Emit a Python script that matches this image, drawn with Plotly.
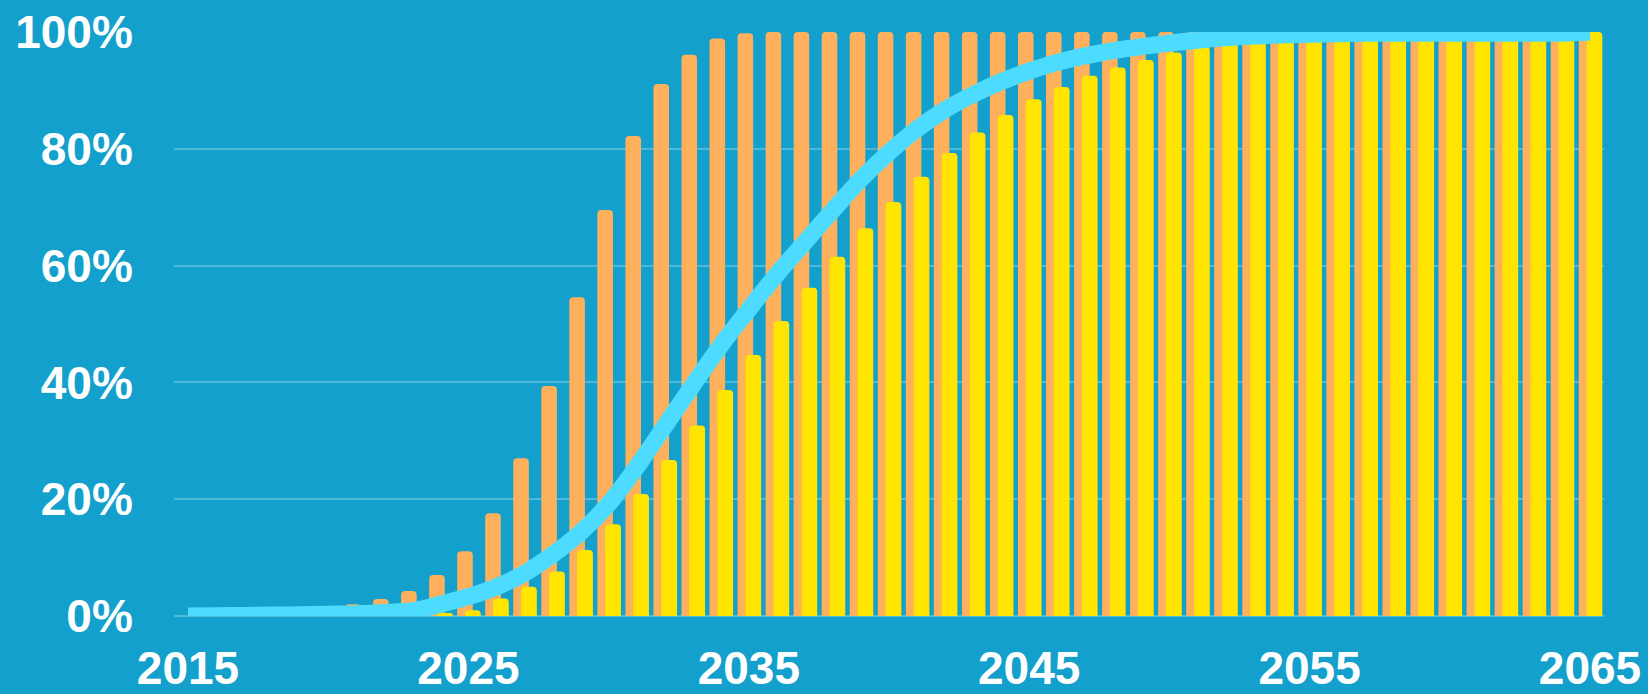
import plotly.graph_objects as go

years = list(range(2015, 2066))

orange_values = [0, 0, 0.1, 0.3, 0.6, 1.5, 2.0, 2.9, 4.3, 7.0, 11.1, 17.6, 27.0, 39.4, 54.6,
                 69.5, 82.2, 91.1, 96.1, 98.9, 99.8] + [100] * 30

yellow_values = [0, 0, 0, 0, 0, 0, 0, 0, 0.2, 0.5, 1.0, 3.0, 5.0, 7.6, 11.3,
                 15.7, 20.9, 26.7, 32.6, 38.7, 44.7, 50.5, 56.2, 61.5, 66.4, 70.9, 75.2, 79.3, 82.8, 85.8,
                 88.5, 90.6, 92.5, 93.9, 95.2, 96.5, 97.5, 98.1, 98.6, 99.0, 99.3,
                 99.5, 99.6, 99.7, 99.8, 99.8, 99.9, 99.9, 99.9, 100, 100]

line_values = [0, 0.05, 0.1, 0.15, 0.2, 0.3, 0.4, 0.6, 0.9, 2.0, 3.3, 5.0, 7.3, 10.5, 14.3,
               19.2, 25.5, 32.5, 39.5, 46.3, 52.5, 58.5, 64.0, 69.5, 74.8, 79.4, 83.4, 86.7, 89.3, 91.5,
               93.3, 94.8, 95.9, 96.8, 97.5, 98.1, 98.6, 99.0, 99.3, 99.5, 99.6,
               99.7, 99.8, 99.8, 99.8, 99.8, 99.8, 99.8, 99.8, 99.8, 100]

y_ticks = [0, 20, 40, 60, 80, 100]
y_tick_labels = ["0%", "20%", "40%", "60%", "80%", "100%"]
x_ticks = [2015, 2025, 2035, 2045, 2055, 2065]

BG = "#13A0CC"
ORANGE = "#FFB05C"
YELLOW = "#FFE500"
CYAN = "#4DDBFF"

fig = go.Figure()
fig.add_trace(go.Bar(x=years, y=orange_values, offset=-0.40, width=0.555,
                     marker=dict(color=ORANGE, line=dict(width=0), cornerradius=4)))
fig.add_trace(go.Bar(x=years, y=yellow_values, offset=-0.12, width=0.56,
                     marker=dict(color=YELLOW, line=dict(width=0), cornerradius=4)))
fig.add_trace(go.Scatter(x=years, y=line_values, mode="lines",
                         line=dict(color=CYAN, width=17, shape="spline", smoothing=1.0)))

font = dict(family="Liberation Sans, Arial, sans-serif", size=46, color="white", weight="bold")

fig.update_layout(
    width=1648, height=694,
    paper_bgcolor=BG, plot_bgcolor=BG,
    margin=dict(l=174, r=44, t=32, b=78, autoexpand=False),
    showlegend=False, barmode="overlay",
    font=font,
    xaxis=dict(range=[2014.5, 2065.5], tickmode="array", tickvals=x_ticks,
               ticktext=[str(v) for v in x_ticks], showgrid=False, zeroline=False,
               ticks="outside", ticklen=12, tickcolor="rgba(0,0,0,0)", tickfont=font,
               showline=False, automargin=False),
    yaxis=dict(range=[0, 100], tickmode="array", tickvals=y_ticks, ticktext=y_tick_labels,
               showgrid=True, gridcolor="rgba(255,255,255,0.25)", gridwidth=2,
               zeroline=True, zerolinecolor="rgba(255,255,255,0.25)", zerolinewidth=2,
               ticks="outside", ticklen=31, tickcolor="rgba(0,0,0,0)", tickfont=font,
               showline=False, automargin=False),
)

fig.write_html("out.html", config={"displayModeBar": False},
               post_script="document.body.style.margin='0';document.body.style.overflow='hidden';")
